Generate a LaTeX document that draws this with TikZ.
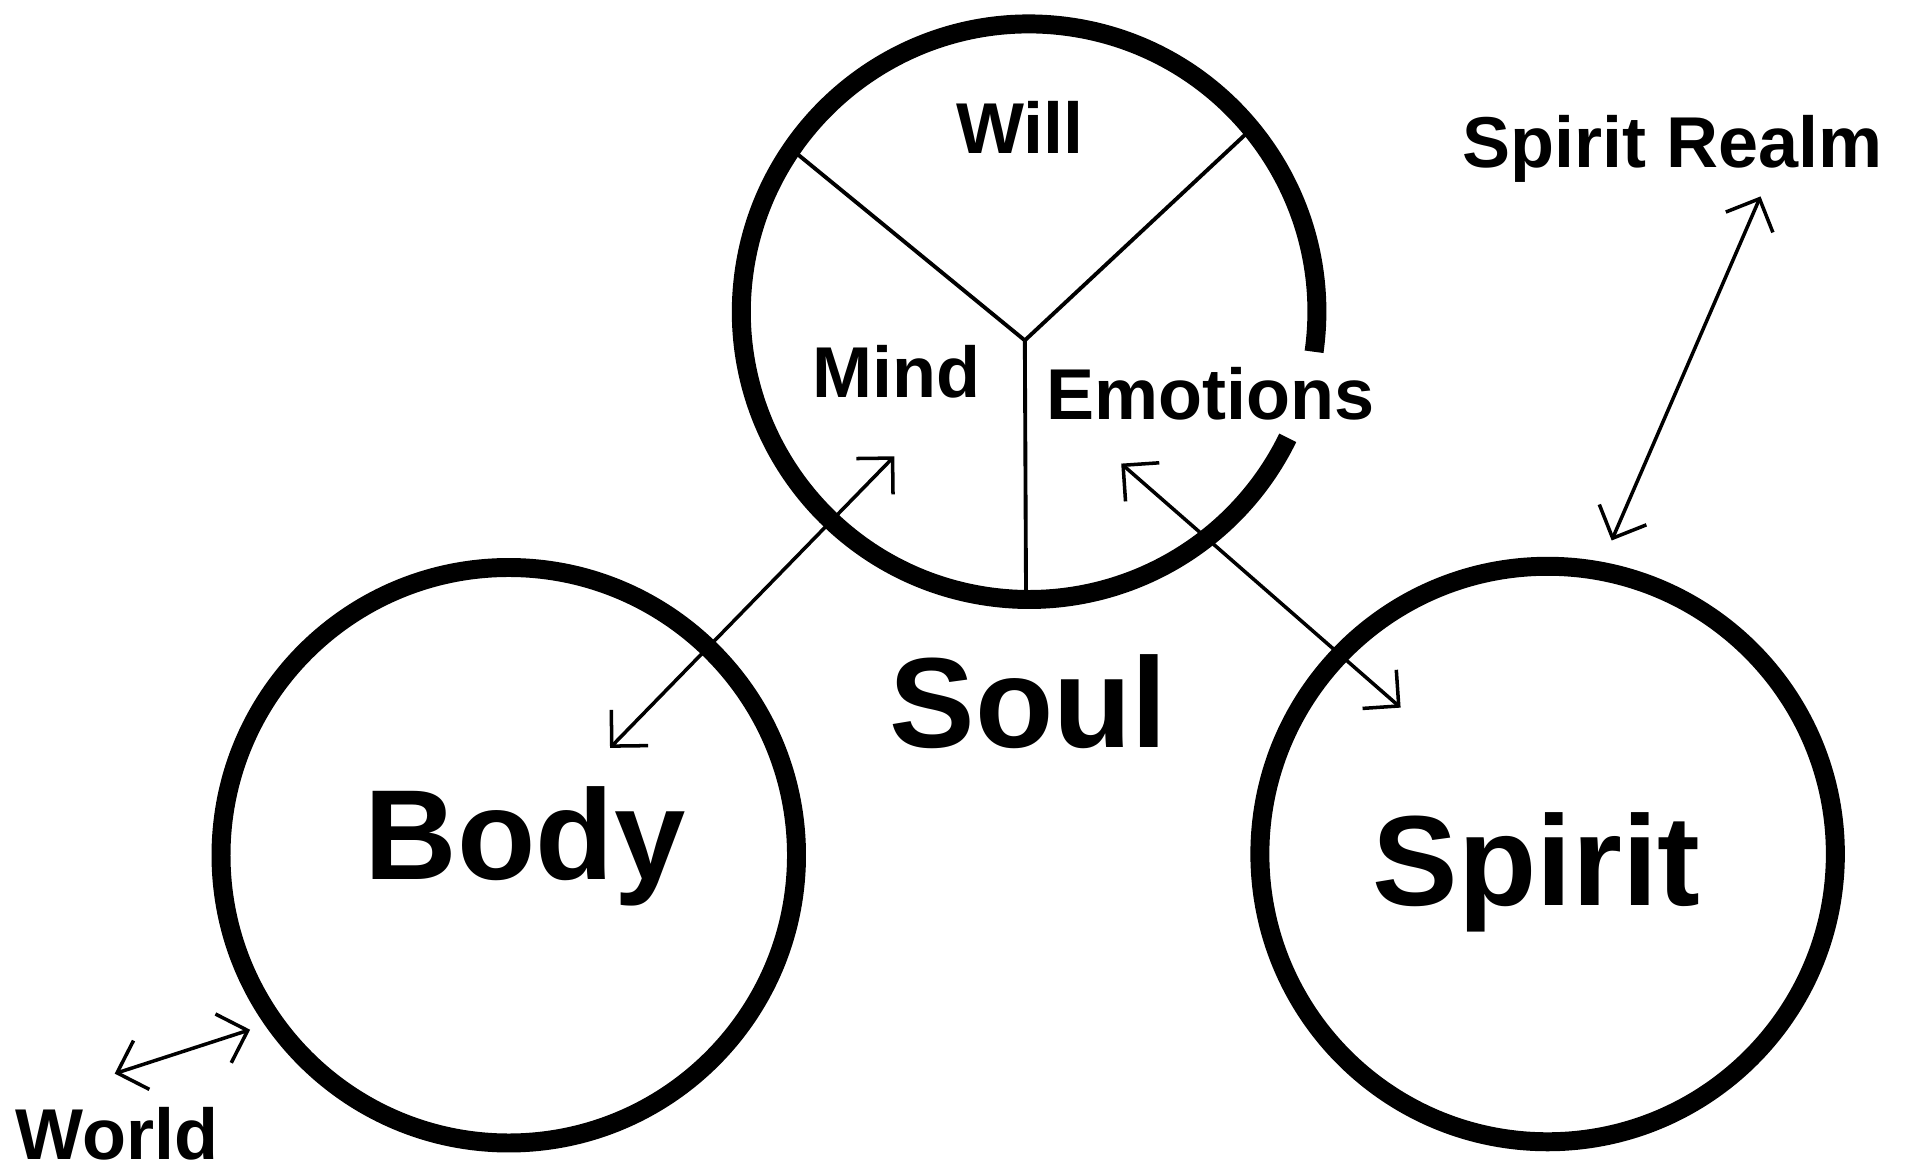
\documentclass[tikz,border=0pt]{standalone}
\usepackage{fontspec}
\setmainfont{Liberation Sans}
\usetikzlibrary{arrows.meta}
\begin{document}
\begin{tikzpicture}[x=0.0122cm, y=-0.0122cm,
  ring/.style={draw, circle, line width=5.4pt, minimum size=5.758cm, inner sep=0pt},
  bigtxt/.style={font=\bfseries\fontsize{36.5}{40}\selectfont, inner sep=0pt, anchor=base},
  smalltxt/.style={font=\bfseries\fontsize{20.5}{24}\selectfont, inner sep=0pt, anchor=base},
  divider/.style={line width=1.1pt},
  biarrow/.style={line width=1pt, {Straight Barb[length=7.3pt,width=14.6pt]}-{Straight Barb[length=7.3pt,width=14.6pt]}}]
\useasboundingbox (0,0) rectangle (1568,960);
% soul dividers
\coordinate (junc) at (840,279);
\coordinate (ulend) at (652,125);
\coordinate (urend) at (1021,110);
\coordinate (botend) at (841,492);
\draw[divider] (junc) -- (ulend);
\draw[divider] (junc) -- (urend);
\draw[divider] (junc) -- (botend);
% soul circle with a gap on the right
\coordinate (soulc) at (843.5,255.5);
\draw[line width=5.4pt] (soulc) ++(-8:2.8792cm) arc[start angle=-8, end angle=334, radius=2.8792cm];
% body and spirit circles
\node[ring] (body) at (417,701) {};
\node[ring] (spirit) at (1268.5,700) {};
% labels
\node[bigtxt] (bodylbl) at (430.5,721) {Body};
\node[bigtxt] (spiritlbl) at (1259.5,742) {Spirit};
\node[bigtxt] (soullbl) at (843,613) {Soul};
\node[smalltxt] (will) at (836,126) {Will};
\node[smalltxt] (mind) at (735,326) {Mind};
\node[smalltxt] (emo) at (992,344) {Emotions};
\node[smalltxt] (realm) at (1371,137) {Spirit Realm};
\node[smalltxt] (world) at (96,950) {World};
% arrows
\coordinate (m1) at (733,374);
\coordinate (m2) at (500,613);
\coordinate (e1) at (919,380);
\coordinate (e2) at (1148,580);
\coordinate (r1) at (1443,161);
\coordinate (r2) at (1321,443);
\coordinate (w1) at (205,844);
\coordinate (w2) at (94,880);
\draw[biarrow] (m1) -- (m2);
\draw[biarrow] (e1) -- (e2);
\draw[biarrow] (r1) -- (r2);
\draw[biarrow] (w1) -- (w2);
\end{tikzpicture}
\end{document}
